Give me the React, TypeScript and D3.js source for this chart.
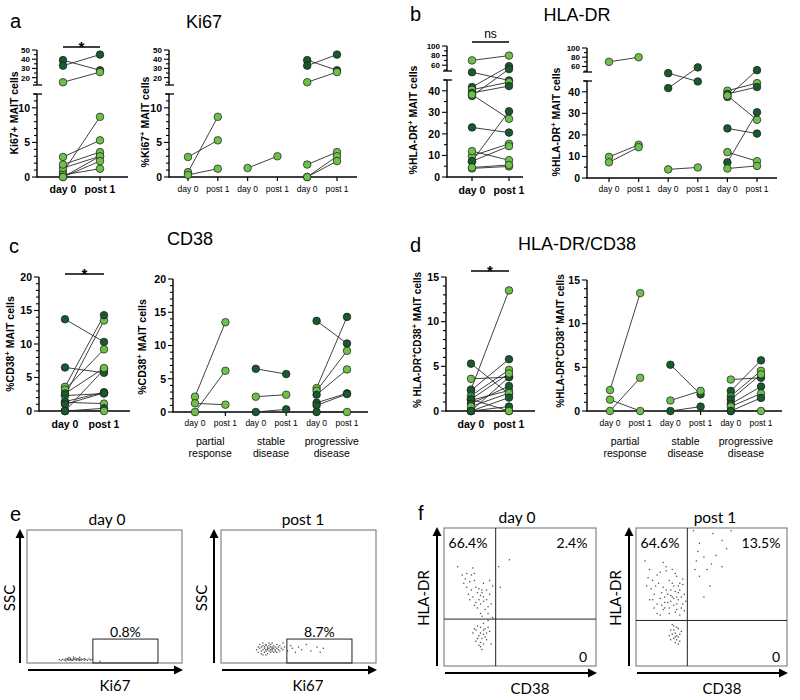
import React, { useRef, useEffect } from "react";
import * as d3 from "d3";

// ---------- data ----------
const timepoints = ["day 0", "post 1"];
const responseGroups = ["partial response", "stable disease", "progressive disease"];

// group index: 0 partial, 1 stable, 2 progressive ; tones: D dark, M mid, L light
const ki67Group = [0, 0, 0, 1, 2, 2, 2, 2, 2, 2];
const ki67Day0 = [2.9, 0.7, 0.3, 1.3, 39, 33, 15, 1.8, 0, 0];
const ki67Post1 = [5.3, 8.7, 1.2, 3.0, 28, 45, 26, 3.6, 3.0, 2.3];
const ki67Tone0 = "LLLLDDLLLL";
const ki67Tone1 = "LLLLDDLLLL";

const hladrGroup = [0, 0, 0, 1, 1, 1, 2, 2, 2, 2, 2, 2, 2, 2];
const hladrDay0 = [70, 9.8, 7.3, 45.5, 41.7, 4.0, 40.5, 39, 37.6, 38.2, 23, 12, 7.3, 4.4];
const hladrPost1 = [80, 15.4, 14.3, 44.8, 58, 4.9, 44, 42.2, 52, 27, 20.6, 7.8, 30.5, 5.6];
const hladrTone0 = "LLLDDLLDDLDLDL";
const hladrTone1 = "LLLDDLLDDLDLDL";

const cd38Group = [0, 0, 0, 1, 1, 1, 2, 2, 2, 2, 2, 2, 2];
const cd38Day0 = [2.3, 0, 1.3, 6.5, 2.3, 0, 13.7, 3.6, 3.2, 2.6, 1.4, 1.0, 0];
const cd38Post1 = [13.5, 6.2, 1.1, 5.7, 2.6, 0.4, 10.3, 14.3, 9.2, 6.4, 2.8, 2.7, 0];
const cd38Tone0 = "LLLDLDDLLDDDD";
const cd38Tone1 = "LLLDLDDDLLDDL";

const dblGroup = [0, 0, 0, 1, 1, 1, 2, 2, 2, 2, 2, 2, 2, 2];
const dblDay0 = [2.4, 0, 1.3, 5.3, 1.2, 0, 3.6, 2.3, 1.7, 1.3, 0.8, 0.5, 0, 0];
const dblPost1 = [13.5, 3.8, 0, 1.9, 2.3, 0.5, 3.8, 5.8, 4.6, 4.2, 2.8, 2.0, 1.5, 0];
const dblTone0 = "LLLDLDLDMDDLDD";
const dblTone1 = "LLLDLDDDLLDLDL";

// flow cytometry events, [x %, y %] of each plot
const ki67Day0Events = [
  [21, 2.5], [22, 1.9], [23, 2.8], [24, 2.2], [25, 3.1], [25, 1.6], [26, 2.4], [26, 3.4], [27, 2.0], [27, 2.9],
  [28, 2.5], [28, 3.6], [29, 1.8], [29, 2.7], [30, 3.2], [30, 2.2], [31, 2.6], [31, 3.8], [32, 2.0], [32, 3.0],
  [33, 2.4], [33, 3.3], [34, 2.8], [34, 1.9], [35, 3.1], [35, 2.3], [36, 2.7], [37, 2.1], [37, 3.4], [38, 2.6],
  [39, 2.0], [40, 3.0], [41, 2.3], [42, 2.8], [47, 1.4], [30, 4.5], [27, 4.1], [34, 4.3],
];
const ki67Post1Events = [
  [23, 10], [24, 12], [24, 8], [25, 11], [25, 14], [26, 9], [26, 12], [26, 7], [27, 10], [27, 13], [27, 15],
  [28, 8], [28, 11], [28, 12], [29, 9], [29, 10], [29, 13], [29, 14], [30, 7], [30, 10], [30, 11], [30, 12],
  [31, 9], [31, 11], [31, 13], [31, 15], [32, 8], [32, 10], [32, 12], [32, 14], [33, 9], [33, 11], [33, 12],
  [33, 10], [34, 8], [34, 11], [34, 13], [35, 9], [35, 12], [35, 10], [36, 11], [36, 14], [36, 8], [37, 10],
  [37, 12], [38, 9], [38, 13], [39, 11], [40, 10], [40, 15], [41, 12], [43, 9], [45, 13], [46, 11], [48, 8],
  [50, 12], [52, 10], [55, 14], [58, 9], [62, 12], [66, 11], [64, 8], [29, 6], [33, 15], [27, 6],
];
const drDay0Events = [
  [9, 72], [12, 66], [15, 67], [18, 66], [20, 67], [19, 71], [17, 61], [13, 60], [15, 57], [18, 55], [21, 57],
  [25, 55], [24, 51], [26, 50], [23, 48], [19, 50], [28, 55], [30, 62], [31, 45], [27, 41], [24, 38], [20, 44],
  [17, 48], [22, 53], [25, 53], [23, 56], [26, 47], [28, 48], [29, 43], [21, 46], [24, 45], [16, 52], [29, 38],
  [32, 58], [30, 52], [14, 63], [20, 62], [26, 60], [22, 42], [25, 36],
  [29, 33], [26, 31], [24, 28], [21, 26], [19, 24], [24, 24], [27, 21], [28, 19], [26, 16], [24, 17], [23, 15],
  [20, 27], [30, 25], [29, 28], [32, 35], [31, 16], [25, 12], [22, 20], [26, 23], [28, 24], [23, 22], [25, 20],
  [27, 27], [21, 18], [24, 14], [26, 26], [22, 29],
  [36, 72], [43, 77], [37, 57],
];
const drPost1Events = [
  [6, 76], [9, 70], [11, 62], [14, 66], [18, 75], [20, 69], [22, 62], [25, 58], [27, 65], [29, 55], [31, 59],
  [30, 50], [27, 45], [24, 50], [20, 55], [18, 57], [16, 49], [14, 45], [12, 42], [18, 41], [22, 38], [27, 41],
  [30, 42], [31, 45], [28, 53], [25, 49], [21, 46], [19, 42], [16, 37], [8, 64], [10, 56], [12, 52], [15, 60],
  [17, 53], [19, 50], [21, 52], [23, 55], [23, 47], [25, 44], [26, 54], [28, 48], [29, 60], [32, 52], [33, 47],
  [24, 60], [26, 67], [20, 72], [13, 58], [11, 48], [14, 38], [17, 44], [22, 42], [26, 39], [29, 37], [32, 40],
  [31, 63], [24, 70], [16, 68], [9, 48], [7, 58], [28, 58], [23, 51], [19, 46], [27, 50],
  [24, 30], [25, 26], [27, 22], [25, 20], [23, 19], [26, 24], [28, 27], [27, 19], [29, 23], [24, 23], [26, 17],
  [28, 21], [30, 25], [23, 26], [25, 29], [27, 28], [29, 18], [22, 22], [26, 21], [28, 16],
  [38, 98], [42, 89], [51, 96], [57, 91], [63, 98], [41, 83], [45, 79], [50, 74], [57, 72], [47, 70], [39, 70],
  [42, 65], [49, 58], [45, 50], [53, 80], [40, 76], [60, 85],
];
const ki67GatePct = ["0.8%", "8.7%"];
const drQuadPct = [["66.4%", "2.4%", "0"], ["64.6%", "13.5%", "0"]];

// ---------- styling ----------
const TONE: Record<string, string> = { D: "#18592d", M: "#3a8b3a", L: "#6fbf4b" };
const SANS = "Arial, 'Liberation Sans', Helvetica, sans-serif";
const FLOW = "Lato, 'Open Sans', sans-serif";

type Seg = { domain: [number, number]; range: [number, number]; ticks: number[]; labels: number[]; fs: number };
type Part = { t: string; sup?: boolean };

const steps = (a: number, b: number, s: number) => d3.range(a, b + 0.001, s);

const kiSegs = (): Seg[] => [
  { domain: [0, 12], range: [177, 94], ticks: steps(0, 12, 1), labels: [0, 5, 10], fs: 10.5 },
  { domain: [12, 50], range: [85, 50], ticks: steps(15, 50, 5), labels: [20, 30, 40, 50], fs: 8 },
];
const drSegs = (base: number, top: number, brk: number, top2: number): Seg[] => [
  { domain: [0, 45], range: [base, top], ticks: steps(0, 45, 5), labels: [0, 10, 20, 30, 40], fs: 10.5 },
  { domain: [48, 100], range: [brk, top2], ticks: steps(50, 100, 10), labels: [60, 80, 100], fs: 8 },
];

const PANELS = [
  {
    m: { group: ki67Group, d0: ki67Day0, p1: ki67Post1, t0: ki67Tone0, t1: ki67Tone1 },
    split: false, axisX: 37, xEnd: 128, cats: [63, 100], segs: kiSegs(), xLabelY: 193,
    yLabel: { x: 14, y: 113, size: 10.5, parts: [{ t: "Ki67+ MAIT cells" }] },
    bracket: { y: 47, text: "*", textY: 52 },
  },
  {
    m: { group: ki67Group, d0: ki67Day0, p1: ki67Post1, t0: ki67Tone0, t1: ki67Tone1 },
    split: true, axisX: 169, xEnd: 357, cats: [188, 337], segs: kiSegs(), xLabelY: 192,
    yLabel: { x: 145, y: 122, size: 10.5, parts: [{ t: "%Ki67" }, { t: "+", sup: true }, { t: " MAIT cells" }] },
  },
  {
    m: { group: hladrGroup, d0: hladrDay0, p1: hladrPost1, t0: hladrTone0, t1: hladrTone1 },
    split: false, axisX: 447, xEnd: 523, cats: [472, 509], segs: drSegs(177, 80, 71, 46), xLabelY: 194,
    yLabel: { x: 413, y: 120, size: 10.5, parts: [{ t: "%HLA-DR" }, { t: "+", sup: true }, { t: " MAIT cells" }] },
    bracket: { y: 42, text: "ns", textY: 38 },
  },
  {
    m: { group: hladrGroup, d0: hladrDay0, p1: hladrPost1, t0: hladrTone0, t1: hladrTone1 },
    split: true, axisX: 587, xEnd: 777, cats: [609, 757], segs: drSegs(178, 81, 72, 48), xLabelY: 192,
    yLabel: { x: 556, y: 122, size: 10.5, parts: [{ t: "%HLA-DR" }, { t: "+", sup: true }, { t: " MAIT cells" }] },
  },
  {
    m: { group: cd38Group, d0: cd38Day0, p1: cd38Post1, t0: cd38Tone0, t1: cd38Tone1 },
    split: false, axisX: 39, xEnd: 130, cats: [65, 104], xLabelY: 428,
    segs: [{ domain: [0, 20], range: [411, 277], ticks: steps(0, 20, 1), labels: [0, 5, 10, 15, 20], fs: 10.5 }],
    yLabel: { x: 10, y: 344, size: 10.5, parts: [{ t: "%CD38" }, { t: "+", sup: true }, { t: " MAIT cells" }] },
    bracket: { y: 274, text: "*", textY: 279 },
  },
  {
    m: { group: cd38Group, d0: cd38Day0, p1: cd38Post1, t0: cd38Tone0, t1: cd38Tone1 },
    split: true, axisX: 173, xEnd: 368, cats: [195, 347], xLabelY: 426, groupLabelY: 445,
    segs: [{ domain: [0, 20], range: [412, 279], ticks: steps(0, 20, 1), labels: [0, 5, 10, 15, 20], fs: 10.5 }],
    yLabel: { x: 142, y: 347, size: 10.5, parts: [{ t: "%CD38" }, { t: "+", sup: true }, { t: " MAIT cells" }] },
  },
  {
    m: { group: dblGroup, d0: dblDay0, p1: dblPost1, t0: dblTone0, t1: dblTone1 },
    split: false, axisX: 446, xEnd: 535, cats: [471, 509], xLabelY: 428,
    segs: [{ domain: [0, 15], range: [411, 277], ticks: steps(0, 15, 1), labels: [0, 5, 10, 15], fs: 10.5 }],
    yLabel: {
      x: 417, y: 340, size: 10,
      parts: [{ t: "% HLA-DR" }, { t: "+", sup: true }, { t: "CD38" }, { t: "+", sup: true }, { t: " MAIT cells" }],
    },
    bracket: { y: 271, text: "*", textY: 276 },
  },
  {
    m: { group: dblGroup, d0: dblDay0, p1: dblPost1, t0: dblTone0, t1: dblTone1 },
    split: true, axisX: 587, xEnd: 782, cats: [610, 761], xLabelY: 426, groupLabelY: 445,
    segs: [{ domain: [0, 15], range: [411, 280], ticks: steps(0, 15, 1), labels: [0, 5, 10, 15], fs: 10.5 }],
    yLabel: {
      x: 560, y: 341, size: 10,
      parts: [{ t: "%HLA-DR" }, { t: "+", sup: true }, { t: "CD38" }, { t: "+", sup: true }, { t: " MAIT cells" }],
    },
  },
];

const FLOWS = [
  {
    box: { x: 27, y: 530, w: 155, h: 133 }, events: ki67Day0Events, title: timepoints[0], titleX: 107,
    yName: "SSC", yNameX: 10, xName: "Ki67", xNameX: 115,
    gate: { x0: 42.5, x1: 84.5, y0: 0, y1: 18, label: ki67GatePct[0] },
  },
  {
    box: { x: 221, y: 530, w: 155, h: 133 }, events: ki67Post1Events, title: timepoints[1], titleX: 303,
    yName: "SSC", yNameX: 202, xName: "Ki67", xNameX: 308,
    gate: { x0: 42.5, x1: 84.5, y0: 0, y1: 18, label: ki67GatePct[1] },
  },
  {
    box: { x: 444, y: 528, w: 152, h: 138 }, events: drDay0Events, title: timepoints[0], titleX: 517,
    yName: "HLA-DR", yNameX: 424, xName: "CD38", xNameX: 530,
    quad: { x: 34, y: 34, labels: drQuadPct[0], pos: [[468, 548], [572, 548], [583, 662]] },
  },
  {
    box: { x: 636, y: 528, w: 151, h: 138 }, events: drPost1Events, title: timepoints[1], titleX: 715,
    yName: "HLA-DR", yNameX: 616, xName: "CD38", xNameX: 722,
    quad: { x: 34, y: 33, labels: drQuadPct[1], pos: [[660, 548], [761, 548], [776, 662]] },
  },
];

// ---------- helpers ----------
function segY(segs: Seg[], v: number) {
  const s = segs.find((d) => v <= d.domain[1]) || segs[segs.length - 1];
  return d3.scaleLinear().domain(s.domain).range(s.range)(v);
}

function vText(g: any, x: number, y: number, parts: Part[], size: number, weight: string, family: string) {
  const t = g
    .append("text")
    .attr("transform", `translate(${x},${y}) rotate(-90)`)
    .attr("text-anchor", "middle")
    .attr("dy", "0.35em")
    .attr("font-size", size)
    .attr("font-weight", weight)
    .attr("font-family", family);
  let up = false;
  parts.forEach((p) => {
    const ts = t.append("tspan").text(p.t);
    if (p.sup) {
      ts.attr("font-size", size * 0.72).attr("dy", -size * 0.38);
      up = true;
    } else if (up) {
      ts.attr("dy", size * 0.38);
      up = false;
    }
  });
}

function drawPaired(svg: any, p: any) {
  const g = svg.append("g").attr("font-family", SANS);
  const m = p.m;
  const segs: Seg[] = p.segs;
  const baseY = segs[0].range[0];
  const keys = p.split ? responseGroups.flatMap((gr) => timepoints.map((t) => gr + "|" + t)) : timepoints;
  const x = d3.scalePoint<string>().domain(keys).range(p.cats);
  const xAt = (i: number, t: number) =>
    x(p.split ? responseGroups[m.group[i]] + "|" + timepoints[t] : timepoints[t]) as number;

  // y axis (possibly broken)
  segs.forEach((s, si) => {
    const sc = d3.scaleLinear().domain(s.domain).range(s.range);
    g.append("line")
      .attr("x1", p.axisX).attr("x2", p.axisX)
      .attr("y1", s.range[0] + (si === 0 ? 0.7 : 0)).attr("y2", s.range[1])
      .attr("stroke", "#000").attr("stroke-width", 1.4);
    s.ticks.forEach((t) => {
      const major = s.labels.includes(t);
      g.append("line")
        .attr("x1", p.axisX - (major ? 5 : 3)).attr("x2", p.axisX)
        .attr("y1", sc(t)).attr("y2", sc(t))
        .attr("stroke", "#000").attr("stroke-width", 1.1);
    });
    s.labels.forEach((t) => {
      g.append("text")
        .attr("x", p.axisX - 7).attr("y", sc(t)).attr("dy", "0.36em")
        .attr("text-anchor", "end").attr("font-size", s.fs).attr("font-weight", "bold")
        .text(t);
    });
    if (segs.length > 1) {
      const capY = si === 0 ? s.range[1] : s.range[0];
      g.append("line")
        .attr("x1", p.axisX - 4).attr("x2", p.axisX + 5)
        .attr("y1", capY).attr("y2", capY)
        .attr("stroke", "#000").attr("stroke-width", 1.3);
    }
  });

  // x axis
  g.append("line")
    .attr("x1", p.axisX).attr("x2", p.xEnd).attr("y1", baseY).attr("y2", baseY)
    .attr("stroke", "#000").attr("stroke-width", 1.4);
  keys.forEach((k: string) => {
    const xx = x(k) as number;
    g.append("line")
      .attr("x1", xx).attr("x2", xx).attr("y1", baseY).attr("y2", baseY + 4)
      .attr("stroke", "#000").attr("stroke-width", 1.2);
    const label = p.split ? k.split("|")[1] : k;
    g.append("text")
      .attr("x", xx).attr("y", p.xLabelY).attr("text-anchor", "middle")
      .attr("font-size", p.split ? 8.5 : 10.5).attr("font-weight", p.split ? "normal" : "bold")
      .text(label);
  });
  if (p.groupLabelY) {
    responseGroups.forEach((gr) => {
      const cx = ((x(gr + "|" + timepoints[0]) as number) + (x(gr + "|" + timepoints[1]) as number)) / 2;
      gr.split(" ").forEach((w, wi) => {
        g.append("text")
          .attr("x", cx).attr("y", p.groupLabelY + wi * 12).attr("text-anchor", "middle")
          .attr("font-size", 10.5).text(w);
      });
    });
  }

  // y label
  vText(g, p.yLabel.x, p.yLabel.y, p.yLabel.parts, p.yLabel.size, "bold", SANS);

  // significance bracket
  if (p.bracket) {
    const [a, b] = timepoints.map((t) => x(t) as number);
    g.append("line")
      .attr("x1", a).attr("x2", b).attr("y1", p.bracket.y).attr("y2", p.bracket.y)
      .attr("stroke", "#000").attr("stroke-width", 1.3);
    g.append("text")
      .attr("x", (a + b) / 2).attr("y", p.bracket.textY).attr("text-anchor", "middle")
      .attr("font-size", p.bracket.text === "*" ? 15 : 12)
      .attr("font-weight", p.bracket.text === "*" ? "bold" : "normal")
      .text(p.bracket.text);
  }

  // paired lines then points
  const idx = d3.range(m.d0.length);
  g.selectAll(".pair")
    .data(idx)
    .join("line")
    .attr("x1", (i: number) => xAt(i, 0)).attr("y1", (i: number) => segY(segs, m.d0[i]))
    .attr("x2", (i: number) => xAt(i, 1)).attr("y2", (i: number) => segY(segs, m.p1[i]))
    .attr("stroke", "#2b2b2b").attr("stroke-width", 0.9);
  const pts = idx.flatMap((i: number) => [
    { x: xAt(i, 0), v: m.d0[i], tone: m.t0[i] },
    { x: xAt(i, 1), v: m.p1[i], tone: m.t1[i] },
  ]);
  g.selectAll(".pt")
    .data(pts)
    .join("circle")
    .attr("cx", (d: any) => d.x).attr("cy", (d: any) => segY(segs, d.v))
    .attr("r", 3.8)
    .attr("fill", (d: any) => TONE[d.tone])
    .attr("stroke", "#1a1a1a").attr("stroke-width", 0.7);
}

function arrow(g: any, x1: number, y1: number, x2: number, y2: number) {
  const ang = Math.atan2(y2 - y1, x2 - x1);
  const len = 9, half = 4.5;
  const bx = x2 - len * Math.cos(ang), by = y2 - len * Math.sin(ang);
  g.append("line").attr("x1", x1).attr("y1", y1).attr("x2", bx).attr("y2", by)
    .attr("stroke", "#000").attr("stroke-width", 2);
  const px = -Math.sin(ang) * half, py = Math.cos(ang) * half;
  g.append("polygon")
    .attr("points", `${x2},${y2} ${bx + px},${by + py} ${bx - px},${by - py}`)
    .attr("fill", "#000");
}

function drawFlow(svg: any, f: any) {
  const g = svg.append("g").attr("font-family", FLOW);
  const { x: bx, y: by, w, h } = f.box;
  const sx = d3.scaleLinear().domain([0, 100]).range([bx, bx + w]);
  const sy = d3.scaleLinear().domain([0, 100]).range([by + h, by]);

  g.append("rect").attr("x", bx).attr("y", by).attr("width", w).attr("height", h)
    .attr("fill", "none").attr("stroke", "#7a7a7a").attr("stroke-width", 1.1);

  g.selectAll(".ev")
    .data(f.events)
    .join("circle")
    .attr("cx", (d: number[]) => sx(d[0])).attr("cy", (d: number[]) => sy(d[1]))
    .attr("r", 0.75).attr("fill", "#4a4a4a");

  if (f.gate) {
    const gt = f.gate;
    g.append("rect")
      .attr("x", sx(gt.x0)).attr("y", sy(gt.y1))
      .attr("width", sx(gt.x1) - sx(gt.x0)).attr("height", sy(gt.y0) - sy(gt.y1))
      .attr("fill", "none").attr("stroke", "#222").attr("stroke-width", 1);
    g.append("text")
      .attr("x", (sx(gt.x0) + sx(gt.x1)) / 2).attr("y", sy(gt.y1) - 2)
      .attr("text-anchor", "middle").attr("font-size", 14).text(gt.label);
  }
  if (f.quad) {
    const q = f.quad;
    g.append("line").attr("x1", sx(q.x)).attr("x2", sx(q.x)).attr("y1", by).attr("y2", by + h)
      .attr("stroke", "#222").attr("stroke-width", 1);
    g.append("line").attr("x1", bx).attr("x2", bx + w).attr("y1", sy(q.y)).attr("y2", sy(q.y))
      .attr("stroke", "#222").attr("stroke-width", 1);
    q.labels.forEach((lab: string, i: number) => {
      g.append("text").attr("x", q.pos[i][0]).attr("y", q.pos[i][1])
        .attr("text-anchor", "middle").attr("font-size", 14).text(lab);
    });
  }

  arrow(g, bx - 7, by + h, bx - 7, by - 1);
  arrow(g, bx + 1, by + h + 7, bx + w + 1, by + h + 7);

  g.append("text").attr("x", f.titleX).attr("y", by - 5).attr("text-anchor", "middle")
    .attr("font-size", 15.5).text(f.title);
  g.append("text").attr("x", f.xNameX).attr("y", by + h + 28).attr("text-anchor", "middle")
    .attr("font-size", 15).text(f.xName);
  vText(g, f.yNameX, 598, [{ t: f.yName }], 15, "normal", FLOW);
}

// ---------- component ----------
export default function App() {
  const svgRef = useRef<SVGSVGElement>(null);

  useEffect(() => {
    if (!svgRef.current) return;
    const svg = d3.select(svgRef.current);
    svg.selectAll("*").remove();
    svg.append("rect").attr("width", 800).attr("height", 700).attr("fill", "#fff");

    // panel letters
    const letters: [string, number, number][] = [
      ["a", 10, 28], ["b", 410, 21], ["c", 9, 253], ["d", 410, 252], ["e", 10, 521], ["f", 418, 520],
    ];
    letters.forEach(([t, x, y]) => {
      svg.append("text").attr("x", x).attr("y", y).attr("font-family", SANS)
        .attr("font-size", 20).text(t);
    });
    // panel titles
    const titles: [string, number, number][] = [
      ["Ki67", 204, 28], ["HLA-DR", 577, 21], ["CD38", 190, 245], ["HLA-DR/CD38", 577, 250],
    ];
    titles.forEach(([t, x, y]) => {
      svg.append("text").attr("x", x).attr("y", y).attr("font-family", SANS)
        .attr("font-size", 18).attr("text-anchor", "middle").text(t);
    });

    PANELS.forEach((p) => drawPaired(svg, p));
    FLOWS.forEach((f) => drawFlow(svg, f));
  }, []);

  return (
    <svg
      ref={svgRef}
      width={800}
      height={700}
      style={{ position: "absolute", left: 0, top: 0 }}
    />
  );
}
